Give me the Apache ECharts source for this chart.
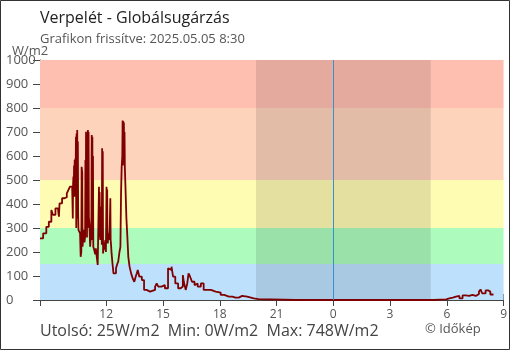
<!DOCTYPE html>
<html><head><meta charset="utf-8">
<script src="https://cdn.jsdelivr.net/npm/echarts@6/dist/echarts.min.js"></script>
<style>html,body{margin:0;padding:0;background:#fff}#c{width:510px;height:350px}</style>
</head><body><div id="c"></div>
<script>
// Time stamps (HH:MM), starting 2025-05-04 08:30, rolling over midnight into 2025-05-05
const times = [
 "08:30","08:40","08:50","08:58","09:06","09:11","09:19","09:27","09:30","09:32",
 "09:40","09:48","09:55","10:01","10:05","10:12","10:13","10:14","10:15","10:16",
 "10:17","10:18","10:19","10:20","10:21","10:22","10:23","10:24","10:25","10:26",
 "10:27","10:28","10:29","10:30","10:31","10:32","10:35","10:37","10:39","10:41",
 "10:42","10:44","10:45","10:47","10:49","10:51","10:53","10:54","10:55","10:56",
 "10:57","10:58","10:59","11:00","11:01","11:02","11:03","11:04","11:05","11:07",
 "11:09","11:11","11:13","11:14","11:15","11:16","11:17","11:18","11:19","11:22",
 "11:25","11:27","11:30","11:33","11:37","11:38","11:39","11:41","11:42","11:44",
 "11:45","11:46","11:47","11:48","11:49","11:50","11:53","11:55","11:57","11:59",
 "12:01","12:02","12:03","12:04","12:05","12:07","12:09","12:11","12:13","12:14",
 "12:15","12:17","12:20","12:23","12:27","12:31","12:35","12:38","12:42","12:45",
 "12:47","12:49","12:51","12:52","12:53","12:54","12:55","12:56","12:57","12:58",
 "12:59","13:01","13:04","13:07","13:10","13:14","13:19","13:24","13:29","13:34",
 "13:37","13:40","13:45","13:53","14:00","14:08","14:19","14:24","14:35","14:40",
 "14:45","14:55","15:01","15:06","15:11","15:16","15:22","15:27","15:32","15:39",
 "15:48","15:56","16:03","16:06","16:12","16:17","16:21","16:26","16:32","16:40",
 "16:45","16:50","17:00","17:09","17:16","17:21","17:32","17:37","17:47","17:53",
 "18:03","18:14","18:29","18:40","18:50","19:00","19:11","19:27","19:48","20:03",
 "20:07","22:00","00:00","02:00","04:00","05:18","05:21","05:58","06:08","06:19",
 "06:29","06:40","06:50","07:00","07:11","07:21","07:32","07:42","07:47","07:52",
 "08:03","08:11","08:18","08:28"
];
const radiation = [
 257,278,305,326,375,355,382,389,347,403,
 424,428,444,461,472,479,475,340,485,514,
 450,560,430,583,470,590,520,680,300,694,
 450,708,340,660,361,292,285,278,180,200,
 555,530,222,264,292,240,264,583,300,701,
 350,667,260,690,300,708,400,700,347,300,
 222,260,347,688,250,680,300,600,222,208,
 190,215,180,146,472,260,450,250,389,250,
 380,230,632,300,620,194,240,210,250,200,
 472,240,460,250,236,278,250,290,424,250,
 236,194,150,111,111,132,150,160,200,222,
 444,555,600,748,560,745,600,740,580,700,
 555,472,340,264,180,139,111,90,76,100,
 111,125,97,83,42,35,31,42,56,69,
 56,56,62,49,49,132,125,139,97,69,
 49,56,104,76,42,69,111,97,76,62,
 69,56,69,42,49,42,49,35,31,31,
 21,14,14,10,10,17,14,7,4,3,
 0,0,0,0,0,0,3,7,10,14,
 17,7,19,17,21,17,25,35,44,28,
 40,35,23,25
];
const xLabelHours = [12,15,18,21,24,27,30,33];
const bandEdges = [0,150,300,500,800,1000];
const bandColors = ['#bde0fc','#adfcbd','#fefbb3','#fdd3bb','#febfb0'];
const nightStart = "19:55", nightEnd = "05:09";
const axisStart = "08:30", axisEnd = "09:00";
const stats = {last:25, min:0, max:748};

function toMin(t){const p=t.split(':');return (+p[0])*60+(+p[1]);}
let day=0, prev=-1;
const data = times.map((t,i)=>{let m=toMin(t); if(m<prev) day++; prev=m; return [m+day*1440, radiation[i]];});
const xMin = toMin(axisStart), xMax = toMin(axisEnd)+1440;
const nS = toMin(nightStart), nE = toMin(nightEnd)+1440;

const FONT = "'Open Sans', sans-serif";
const chart = echarts.init(document.getElementById('c'), null, {renderer:'canvas'});
const bandAreas = bandColors.map((c,i)=>[{yAxis:bandEdges[i], itemStyle:{color:c}},{yAxis:bandEdges[i+1]}]);
const axisCol = '#444';
const tickVals = [xMin].concat(xLabelHours.map(h=>h*60));
chart.setOption({
  animation:false,
  grid:{left:40, right:1, top:60, bottom:50},
  xAxis:[
    {type:'value', min:xMin, max:xMax,
     axisLine:{show:true, onZero:false, lineStyle:{color:axisCol, width:1}},
     axisTick:{show:true, customValues:tickVals, length:6, lineStyle:{color:axisCol}},
     axisLabel:{customValues:xLabelHours.map(h=>h*60), formatter:v=>String(Math.round(v/60)%24), color:'#555', fontSize:12, fontFamily:FONT, margin:9, showMaxLabel:true, showMinLabel:true, hideOverlap:false, alignMaxLabel:'center', alignMinLabel:'center'},
     splitLine:{show:false}},
    {type:'value', min:xMin, max:xMax, position:'bottom',
     axisLine:{show:false},
     axisTick:{show:true, inside:true, customValues:tickVals, length:6, lineStyle:{color:axisCol}},
     axisLabel:{show:false}, splitLine:{show:false}}
  ],
  yAxis:[
    {type:'value', min:0, max:1000, interval:100,
     axisLine:{show:true, lineStyle:{color:axisCol, width:1}},
     axisTick:{show:true, length:7, lineStyle:{color:axisCol}},
     axisLabel:{align:'left', margin:34, color:'#555', fontSize:13, fontFamily:FONT, formatter:v=>String(v)},
     splitLine:{show:false}},
    {type:'value', min:0, max:1000, interval:100, position:'left',
     axisLine:{show:false},
     axisTick:{show:true, inside:true, length:6, lineStyle:{color:axisCol}},
     axisLabel:{show:false}, splitLine:{show:false}}
  ],
  series:[
    {type:'line', z:1, data:[[xMin,0]], showSymbol:false, lineStyle:{opacity:0}, silent:true,
     markArea:{silent:true, data:bandAreas}},
    {type:'line', z:2, data:[[xMin,0]], showSymbol:false, lineStyle:{opacity:0}, silent:true,
     markArea:{silent:true, itemStyle:{color:'rgba(0,0,0,0.105)'}, data:[[{xAxis:nS},{xAxis:nE}]]},
     markLine:{silent:true, symbol:'none', label:{show:false}, lineStyle:{color:'#3a8fd0', width:1, type:'solid'}, data:[{xAxis:1440}]}},
    {type:'line', z:3, data:data, step:'end', showSymbol:false, lineStyle:{color:'#7f0000', width:1.8}, silent:true}
  ],
  graphic:[
    {type:'text', left:40, top:10, style:{text:'Verpelét - Globálsugárzás', fill:'#222', font:"16px "+FONT}},
    {type:'text', left:40, top:33, style:{text:'Grafikon frissítve: 2025.05.05 8:30', fill:'#555', font:"13px "+FONT}},
    {type:'text', left:12, top:45, style:{text:'W/m2', fill:'#555', font:"13px "+FONT}},
    {type:'text', left:40, top:323, style:{text:'Utolsó: '+stats.last+'W/m2  Min: '+stats.min+'W/m2  Max: '+stats.max+'W/m2', fill:'#444', font:"16px "+FONT}},
    {type:'text', left:425, top:323, style:{text:'© Időkép', fill:'#555', font:"13px "+FONT}},
    {type:'rect', shape:{x:0.5, y:0.5, width:509, height:349}, style:{fill:'none', stroke:'#333', lineWidth:1}, silent:true, z:100}
  ]
});
</script></body></html>
